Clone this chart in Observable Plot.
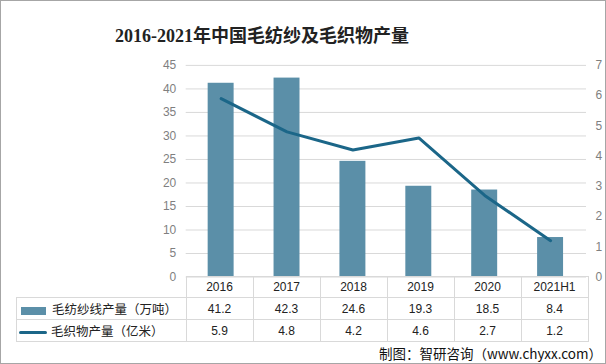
<!DOCTYPE html>
<html><head><meta charset="utf-8">
<script src="https://cdn.jsdelivr.net/npm/d3@7"></script>
<script src="https://cdn.jsdelivr.net/npm/@observablehq/plot@0.6"></script>
<style>
html,body{margin:0;padding:0;background:#fff;}
#wrap{position:relative;width:606px;height:364px;box-sizing:border-box;border:1px solid #a6a6a6;overflow:hidden;font-family:"Liberation Sans","Noto Sans CJK SC",sans-serif;}
#title{position:absolute;left:0;width:522px;top:20px;text-align:center;font-family:"Liberation Serif","Noto Sans CJK SC",serif;font-weight:bold;font-size:18px;color:#222;}
#chart{position:absolute;left:-1px;top:-1px;}
#tbl{position:absolute;left:15px;top:275px;border-collapse:collapse;font-family:"Liberation Sans","Noto Sans CJK SC",sans-serif;font-size:12px;color:#222;}
#tbl td{border:1px solid #d9d9d9;text-align:center;padding:0;height:20px;}
#tbl td.blank{border:none;border-right:1px solid #d9d9d9;}
#tbl td.lab{text-align:left;white-space:nowrap;font-size:12.5px;font-family:"Noto Sans CJK SC",sans-serif;}
.sw{display:inline-block;vertical-align:middle;margin:0 6px 0 4px;}
#cap{position:absolute;right:3px;top:342px;font-size:13.5px;color:#111;white-space:nowrap;font-family:"Noto Sans CJK SC",sans-serif;}
</style></head>
<body>
<div id="wrap">
  <div id="title">2016-2021年中国毛纺纱及毛织物产量</div>
  <div id="chart"></div>
  <table id="tbl"></table>
  <div id="cap">制图：智研咨询（www.chyxx.com）</div>
</div>
<script>
const years = ["2016","2017","2018","2019","2020","2021H1"];
const yarn = [41.2, 42.3, 24.6, 19.3, 18.5, 8.4];
const fabric = [5.9, 4.8, 4.2, 4.6, 2.7, 1.2];
const leftTicks = [0,5,10,15,20,25,30,35,40,45];
const rightTicks = [0,1,2,3,4,5,6,7];
const seriesNames = ["毛纺纱线产量（万吨）","毛织物产量（亿米）"];
const barColor = "#5b8fa8";
const lineColor = "#1b6688";

const data = years.map((y,i)=>({year:y, yarn:yarn[i], fabric:fabric[i]}));
const leftMax = 45, rightMax = 7;

const chart = Plot.plot({
  width: 606, height: 290,
  marginTop: 65, marginBottom: 13, marginLeft: 186, marginRight: 19,
  style: {fontFamily: "'Liberation Sans','Noto Sans CJK SC',sans-serif", fontSize: "12px", background: "transparent"},
  x: {domain: years, paddingInner: 0.6, paddingOuter: 0.3, axis: null},
  y: {domain: [0, leftMax], axis: null},
  marks: [
    Plot.gridY(leftTicks, {stroke: "#d9d9d9", strokeOpacity: 1}),
    Plot.axisY(leftTicks, {tickSize: 0, tickPadding: 10, color: "#7f7f7f", fontSize: 12, label: null}),
    Plot.text(rightTicks, {y: d => d * leftMax / rightMax, text: d => String(d), frameAnchor: "right", textAnchor: "start", dx: 9, fill: "#7f7f7f", fontSize: 12}),
    Plot.barY(data, {x: "year", y: "yarn", fill: barColor}),
    Plot.line(data, {x: "year", y: d => d.fabric * leftMax / rightMax, stroke: lineColor, strokeWidth: 3, curve: "linear"})
  ]
});
document.getElementById("chart").appendChild(chart);

// data table
const tbl = document.getElementById("tbl");
const hdr = document.createElement("tr");
hdr.innerHTML = `<td class="blank" style="width:169px"></td>` + years.map(y=>`<td style="width:66px">${y}</td>`).join("");
tbl.appendChild(hdr);
const r1 = document.createElement("tr");
r1.innerHTML = `<td class="lab" style="height:21px"><span class="sw" style="width:25px;height:8px;background:${barColor}"></span>${seriesNames[0]}</td>` + yarn.map(v=>`<td>${v.toFixed(1)}</td>`).join("");
tbl.appendChild(r1);
const r2 = document.createElement("tr");
r2.innerHTML = `<td class="lab" style="height:21px"><span class="sw" style="width:28px;height:3px;border-radius:2px;background:${lineColor};margin-left:2px;margin-right:4px"></span>${seriesNames[1]}</td>` + fabric.map(v=>`<td>${v.toFixed(1)}</td>`).join("");
tbl.appendChild(r2);
</script>
</body></html>
